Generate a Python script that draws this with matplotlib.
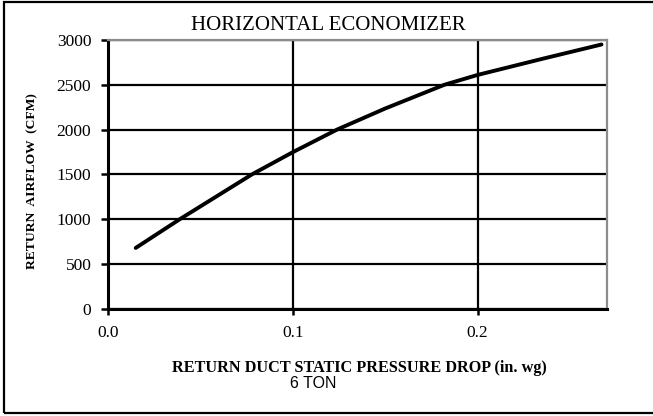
import matplotlib.pyplot as plt
from matplotlib.patches import Rectangle

# return duct static pressure drop (in. wg) vs return airflow (cfm)
pressure = [0.015, 0.039, 0.078, 0.100, 0.124, 0.150, 0.182, 0.200, 0.235, 0.250, 0.267]
airflow = [677, 1000, 1500, 1747, 2000, 2235, 2500, 2610, 2790, 2865, 2950]

x_ticks = [0.0, 0.1, 0.2]
y_ticks = [0, 500, 1000, 1500, 2000, 2500, 3000]

serif = 'Liberation Serif'
sans = 'Liberation Sans'

fig = plt.figure(figsize=(6.53, 4.16), dpi=100)
ax = fig.add_axes([0.1654, 0.2584, 0.7642, 0.6454])

ax.plot(pressure, airflow, color='black', lw=2.8, solid_capstyle='round',
        solid_joinstyle='round')

ax.set_xlim(0, 0.27)
ax.set_ylim(0, 3000)
ax.set_xticks(x_ticks)
ax.set_xticklabels(['%.1f' % v for v in x_ticks], fontfamily=serif, fontsize=12.5)
ax.set_yticks(y_ticks)
ax.set_yticklabels([str(v) for v in y_ticks], fontfamily=serif, fontsize=12.5)
ax.tick_params(axis='y', direction='out', length=5, width=1.8, pad=7)
ax.tick_params(axis='x', direction='out', length=4, width=1.8, pad=8)

ax.grid(True, color='black', lw=1.6)
ax.set_axisbelow(True)
for side in ['left', 'bottom']:
    ax.spines[side].set_linewidth(2.2)
    ax.spines[side].set_color('black')
for side in ['right', 'top']:
    ax.spines[side].set_linewidth(1.6)
    ax.spines[side].set_color('#8c8c8c')

fig.text(0.503, 0.9375, 'HORIZONTAL ECONOMIZER', ha='center', va='center',
         fontfamily=serif, fontsize=15)
fig.text(0.049, 0.565, 'RETURN  AIRFLOW  (CFM)', rotation=90, ha='center', va='center',
         fontfamily=serif, fontsize=9.7, fontweight='bold')
fig.text(0.551, 0.1155, 'RETURN DUCT STATIC PRESSURE DROP (in. wg)', ha='center', va='center',
         fontfamily=serif, fontsize=11.7, fontweight='bold')
fig.text(0.48, 0.079, '6 TON', ha='center', va='center', fontfamily=sans, fontsize=11.5)

# outer frame around the whole chart
fig.patches.append(Rectangle((4 / 653, 3 / 416), 660 / 653, 411 / 416, transform=fig.transFigure,
                             fill=False, edgecolor='black', lw=1.6))

fig.savefig('out.png', dpi=100)
